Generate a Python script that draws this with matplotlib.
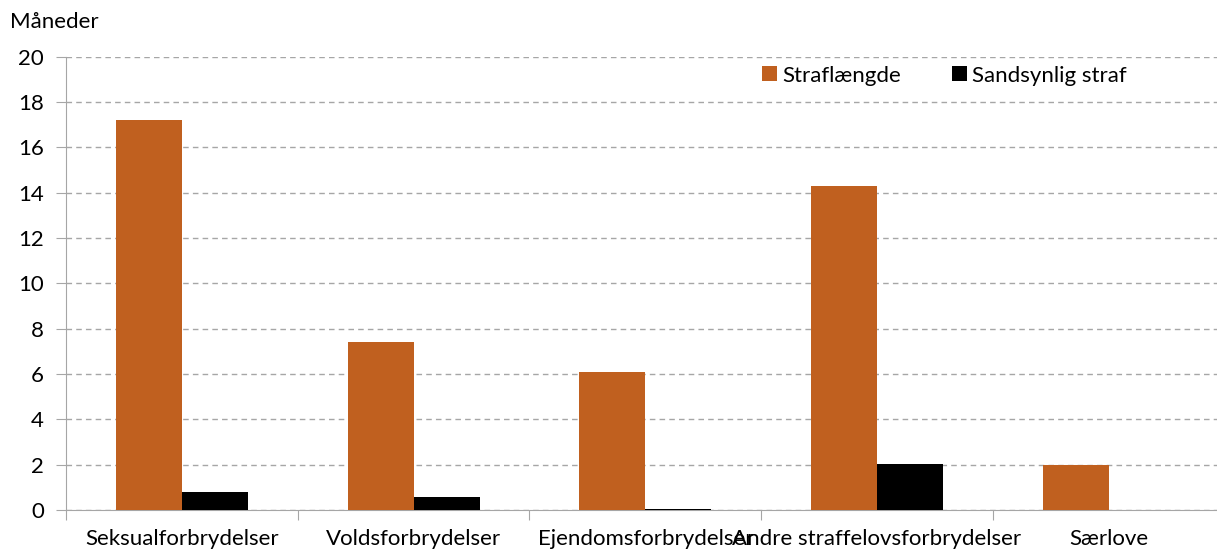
import matplotlib
matplotlib.use("Agg")
import matplotlib.pyplot as plt
import numpy as np

categories = [
    "Seksualforbrydelser",
    "Voldsforbrydelser",
    "Ejendomsforbrydelser",
    "Andre straffelovsforbrydelser",
    "Særlove",
]
straflaengde = [17.2, 7.4, 6.1, 14.3, 2.0]
sandsynlig_straf = [0.78, 0.59, 0.03, 2.02, 0.01]

ORANGE = "#C0601F"
GRID = "#A6A6A6"
FS = 16

plt.rcParams["font.family"] = ["Lato", "DejaVu Sans"]

fig = plt.figure(figsize=(12.17, 5.51), dpi=100)
ax = fig.add_axes([66 / 1217, 41 / 551, (1224.5 - 66) / 1217, (510 - 56.7) / 551])

x = np.arange(len(categories))
w = 0.285
ax.bar(x - w / 2, straflaengde, width=w, color=ORANGE, label="Straflængde", zorder=3)
ax.bar(x + w / 2, sandsynlig_straf, width=w, color="black", label="Sandsynlig straf", zorder=3)

ax.set_xlim(-0.5, len(categories) - 0.5)
ax.set_ylim(0, 20)
ax.set_yticks(range(0, 21, 2))
ax.tick_params(axis="y", labelsize=FS, length=7, color=GRID, pad=9)

# category labels in the middle, ticks on the boundaries
ax.set_xticks(np.arange(-0.5, len(categories) + 0.5, 1.0))
ax.set_xticklabels([])
ax.tick_params(axis="x", length=7, color=GRID)
for i, name in enumerate(categories):
    ax.text(i, -0.85, name, ha="center", va="top", fontsize=FS,
            transform=ax.transData)

ax.yaxis.grid(True, linestyle=(0, (4, 3)), color=GRID, linewidth=1, zorder=0)
for side in ["top", "right"]:
    ax.spines[side].set_visible(False)
ax.spines["left"].set_color(GRID)
ax.spines["bottom"].set_color(GRID)

fig.text(10 / 1217, 1 - 22 / 551, "Måneder", ha="left", va="center", fontsize=FS)

ax.legend(loc="upper left", bbox_to_anchor=((753 - 66) / (1224.5 - 66), 1.0),
          ncol=2, frameon=False, fontsize=FS, handlelength=0.68, handleheight=0.68,
          handletextpad=0.22, columnspacing=2.3, borderaxespad=0.0)

fig.savefig("out.png", dpi=100)
